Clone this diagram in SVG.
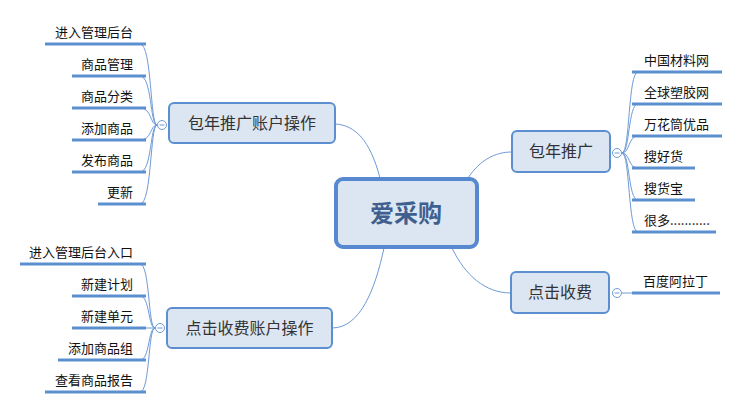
<svg xmlns="http://www.w3.org/2000/svg" width="739" height="410" viewBox="0 0 739 410">
<style>
.t{font-family:"Noto Sans CJK SC","Liberation Sans",sans-serif}
.leaf{font-size:13px;fill:#111}
.br{fill:#dce6f2;stroke:#5b8fd0;stroke-width:2}
.bt{font-size:16px;fill:#333;text-anchor:middle}
.ul{stroke:#5b8fd0;stroke-width:3}
.c{fill:none;stroke:#6e9bd6;stroke-width:1}
.k{fill:#fff;stroke:#6e9bd6;stroke-width:1}
</style>
<rect width="739" height="410" fill="#fff"/>
<g id="connectors">
<path class="c" d="M380,178 C370,140 355,125 335,124"/>
<path class="c" d="M384,248 C375,290 360,328 332,328"/>
<path class="c" d="M468,178 C480,160 495,152 512,152"/>
<path class="c" d="M452,248 C465,275 485,293 511,293"/>
<g>
<path class="c" d="M157,125 C150,125 152,44 140,44"/>
<path class="c" d="M157,125 C150,125 152,76 140,76"/>
<path class="c" d="M157,125 C150,125 152,108 140,108"/>
<path class="c" d="M157,125 C150,125 152,140 140,140"/>
<path class="c" d="M157,125 C150,125 152,172 140,172"/>
<path class="c" d="M157,125 C150,125 152,204 140,204"/>
<path class="c" d="M155,328 C148,328 150,264 140,264"/>
<path class="c" d="M155,328 C148,328 150,296 140,296"/>
<path class="c" d="M155,328 L140,328"/>
<path class="c" d="M155,328 C148,328 150,360 140,360"/>
<path class="c" d="M155,328 C148,328 150,392 140,392"/>
<path class="c" d="M622,153 C630,153 628,72 638,72"/>
<path class="c" d="M622,153 C630,153 628,104 638,104"/>
<path class="c" d="M622,153 C630,153 628,136 638,136"/>
<path class="c" d="M622,153 C630,153 628,168 638,168"/>
<path class="c" d="M622,153 C630,153 628,200 638,200"/>
<path class="c" d="M622,153 C630,153 628,232 638,232"/>
<path class="c" d="M622,293 L634,293"/>
</g>
</g>
<g id="center">
<rect x="336" y="179" width="141" height="68" rx="7" fill="#dce6f2" stroke="#5689cf" stroke-width="4"/>
<text class="t" x="406" y="222" font-size="24" font-weight="bold" fill="#3f5f8f" text-anchor="middle">爱采购</text>
</g>
<g id="n-bnzh">
<rect class="br" x="169" y="103" width="166" height="40" rx="5"/>
<text class="t bt" x="252" y="129">包年推广账户操作</text>
<circle class="k" cx="162" cy="125" r="4.5"/><line x1="159.5" y1="125" x2="164.5" y2="125" stroke="#6e9bd6"/>
</g>
<g id="n-djzh">
<rect class="br" x="167" y="308" width="165" height="40" rx="5"/>
<text class="t bt" x="249.5" y="334">点击收费账户操作</text>
<circle class="k" cx="160" cy="328" r="4.5"/><line x1="157.5" y1="328" x2="162.5" y2="328" stroke="#6e9bd6"/>
</g>
<g id="n-bn">
<rect class="br" x="512" y="131" width="98" height="41" rx="5"/>
<text class="t bt" x="561" y="157">包年推广</text>
<circle class="k" cx="617" cy="153" r="4.5"/><line x1="614.5" y1="153" x2="619.5" y2="153" stroke="#6e9bd6"/>
</g>
<g id="n-dj">
<rect class="br" x="511" y="272" width="98" height="41" rx="5"/>
<text class="t bt" x="560" y="298">点击收费</text>
<circle class="k" cx="617" cy="293" r="4.5"/><line x1="614.5" y1="293" x2="619.5" y2="293" stroke="#6e9bd6"/>
</g>
<g id="leaves-left1" class="t leaf" text-anchor="end">
<line class="ul" x1="45" y1="44" x2="146" y2="44"/><text x="133" y="37">进入管理后台</text>
<line class="ul" x1="72" y1="76" x2="146" y2="76"/><text x="133" y="69">商品管理</text>
<line class="ul" x1="72" y1="108" x2="146" y2="108"/><text x="133" y="101">商品分类</text>
<line class="ul" x1="72" y1="140" x2="146" y2="140"/><text x="133" y="133">添加商品</text>
<line class="ul" x1="72" y1="172" x2="146" y2="172"/><text x="133" y="165">发布商品</text>
<line class="ul" x1="98" y1="204" x2="146" y2="204"/><text x="133" y="197">更新</text>
</g>
<g id="leaves-left2" class="t leaf" text-anchor="end">
<line class="ul" x1="20" y1="264" x2="146" y2="264"/><text x="133" y="257">进入管理后台入口</text>
<line class="ul" x1="72" y1="296" x2="146" y2="296"/><text x="133" y="289">新建计划</text>
<line class="ul" x1="72" y1="328" x2="146" y2="328"/><text x="133" y="321">新建单元</text>
<line class="ul" x1="58" y1="360" x2="146" y2="360"/><text x="133" y="353">添加商品组</text>
<line class="ul" x1="45" y1="392" x2="146" y2="392"/><text x="133" y="385">查看商品报告</text>
</g>
<g id="leaves-right" class="t leaf">
<line class="ul" x1="632" y1="72" x2="722" y2="72"/><text x="644" y="65">中国材料网</text>
<line class="ul" x1="632" y1="104" x2="722" y2="104"/><text x="644" y="97">全球塑胶网</text>
<line class="ul" x1="632" y1="136" x2="722" y2="136"/><text x="644" y="129">万花筒优品</text>
<line class="ul" x1="632" y1="168" x2="695" y2="168"/><text x="644" y="161">搜好货</text>
<line class="ul" x1="632" y1="200" x2="695" y2="200"/><text x="644" y="193">搜货宝</text>
<line class="ul" x1="632" y1="232" x2="716" y2="232"/><text x="644" y="225">很多...........</text>
<line class="ul" x1="632" y1="293" x2="720" y2="293"/><text x="643" y="286">百度阿拉丁</text>
</g>
</svg>
